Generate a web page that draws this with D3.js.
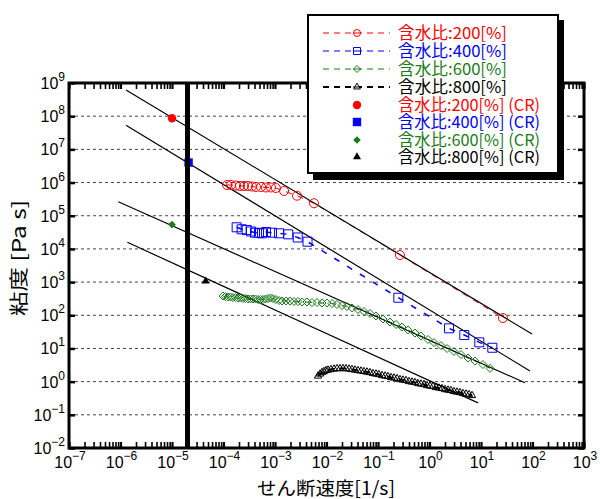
<!DOCTYPE html>
<html>
<head>
<meta charset="utf-8">
<script src="https://cdn.jsdelivr.net/npm/d3@7"></script>
<style>
  body { margin: 0; background: #fff; }
  svg { display: block; }
</style>
</head>
<body>
<svg id="chart" width="600" height="499"></svg>
<script>
// ---- data -------------------------------------------------------------
const xTickExps = [-7, -6, -5, -4, -3, -2, -1, 0, 1, 2, 3];
const yTickExps = [-2, -1, 0, 1, 2, 3, 4, 5, 6, 7, 8, 9];

// measured viscosity curves: [shear rate 1/s, viscosity Pa s]
const w200 = [
  [1.17e-4, 8.43e5], [1.40e-4, 8.43e5], [1.75e-4, 8.15e5], [2.09e-4, 7.87e5],
  [2.50e-4, 7.87e5], [2.99e-4, 7.87e5], [3.57e-4, 7.60e5], [4.28e-4, 7.34e5],
  [5.35e-4, 7.34e5], [6.68e-4, 7.10e5], [8.36e-4, 7.10e5], [1.04e-3, 6.85e5],
  [1.50e-3, 5.56e5], [2.67e-3, 4.01e5], [5.72e-3, 2.37e5], [0.267, 6.55e3],
  [26.7, 82.6]
];
const w400 = [
  [1.80e-4, 4.48e4], [2.25e-4, 3.90e4], [2.82e-4, 3.72e4], [3.42e-4, 3.35e4],
  [4.09e-4, 3.08e4], [4.89e-4, 3.01e4], [5.60e-4, 2.95e4], [6.68e-4, 3.23e4],
  [8.75e-4, 3.08e4], [1.20e-3, 2.95e4], [1.81e-3, 2.75e4], [2.76e-3, 2.21e4],
  [4.28e-3, 1.65e4], [0.248, 338], [2.39, 40.4], [4.74, 25.4], [9.27, 15.3],
  [16.6, 10.5]
];
const w600 = [
  [9.8e-5, 380], [1.09e-4, 367], [1.22e-4, 355], [1.37e-4, 355], [1.53e-4, 343],
  [1.71e-4, 343], [1.91e-4, 331], [2.14e-4, 331], [2.39e-4, 320], [2.67e-4, 320],
  [2.99e-4, 309], [3.34e-4, 309], [3.74e-4, 309], [4.18e-4, 309], [4.68e-4, 299],
  [5.23e-4, 299], [5.85e-4, 299], [6.54e-4, 309], [7.31e-4, 320], [8.18e-4, 331],
  [9.14e-4, 320], [1.04e-3, 299], [1.20e-3, 279], [1.37e-3, 269], [1.64e-3, 269],
  [1.95e-3, 269], [2.34e-3, 260], [2.80e-3, 260], [3.34e-3, 251], [4.18e-3, 251],
  [5.22e-3, 242], [6.54e-3, 242], [8.18e-3, 234], [1.02e-2, 234], [1.28e-2, 226],
  [1.60e-2, 211], [2.00e-2, 197], [2.50e-2, 184], [3.13e-2, 166], [4.09e-2, 149],
  [5.35e-2, 130], [7.00e-2, 113], [9.14e-2, 95], [0.125, 77], [0.171, 62.7],
  [0.224, 52.7], [0.292, 44.3], [0.383, 36.0], [0.523, 29.2], [0.684, 23.7],
  [0.935, 18.6], [1.22, 15.1], [1.67, 12.2], [2.19, 9.95], [2.99, 8.09],
  [4.09, 6.56], [5.60, 5.15], [7.64, 4.18], [10.9, 3.28], [15.0, 2.52]
];
const w800 = [
  [6.84e-3, 1.48], [7.48e-3, 1.70], [8.18e-3, 1.88], [8.94e-3, 2.02], [9.77e-3, 2.16],
  [1.07e-2, 2.24], [1.22e-2, 2.32], [1.40e-2, 2.40], [1.60e-2, 2.48], [1.83e-2, 2.48],
  [2.09e-2, 2.48], [2.39e-2, 2.48], [2.74e-2, 2.40], [3.13e-2, 2.32], [3.57e-2, 2.24],
  [4.09e-2, 2.16], [4.68e-2, 2.09], [5.35e-2, 2.02], [6.11e-2, 1.95], [7.00e-2, 1.88],
  [8.00e-2, 1.76], [9.14e-2, 1.70], [0.104, 1.64], [0.120, 1.53], [0.137, 1.48],
  [0.156, 1.43], [0.179, 1.33], [0.205, 1.29], [0.234, 1.24], [0.267, 1.16],
  [0.305, 1.12], [0.350, 1.08], [0.400, 1.01], [0.457, 0.975], [0.523, 0.942],
  [0.598, 0.877], [0.684, 0.848], [0.782, 0.819], [0.894, 0.764], [1.02, 0.738],
  [1.17, 0.713], [1.34, 0.665], [1.53, 0.643], [1.75, 0.621], [2.00, 0.578],
  [2.29, 0.558], [2.61, 0.540], [2.99, 0.504], [3.42, 0.486], [3.91, 0.470],
  [4.47, 0.439], [5.12, 0.424], [5.85, 0.409], [6.68, 0.382]
];

// creep (CR) results: one point each
const creepRate = [1.0e-5, 2.1e-5, 1.0e-5, 4.5e-5];
const creepVisc = [8.7e7, 4.0e6, 5.4e4, 1.07e3];

// power-law fit lines, end points [rate, viscosity]
const fitStart = [[1.28e-6, 6.15e8], [1.28e-6, 5.35e7], [9.06e-7, 2.63e5], [1.36e-6, 1.58e4]];
const fitEnd   = [[98, 27.2], [89.3, 2.09], [71.4, 0.925], [8.75, 0.229]];

// vertical reference line
const refRate = 2.0e-5;

const seriesNames = ["含水比:200[%]", "含水比:400[%]", "含水比:600[%]", "含水比:800[%]"];
const creepNames = ["含水比:200[%] (CR)", "含水比:400[%] (CR)", "含水比:600[%] (CR)", "含水比:800[%] (CR)"];
const colors = ["#ff0000", "#0000ff", "#1b7a1b", "#000000"];
const shapes = ["circle", "square", "diamond", "triangle"];
const measured = [w200, w400, w600, w800];

// ---- layout ------------------------------------------------------------
const svg = d3.select("#chart");
const L = 69, R = 584, T = 83, B = 448;
const x = d3.scaleLog().domain([1e-7, 1e3]).range([L, R]);
const y = d3.scaleLog().domain([1e-2, 1e9]).range([B, T]);
const tickFont = "'Liberation Sans', Arial, sans-serif";
const jpFont = "'Noto Sans CJK JP', sans-serif";

// horizontal dashed grid
svg.append("g").selectAll("line")
  .data(yTickExps.filter(e => e > -2 && e < 9))
  .join("line")
  .attr("x1", L).attr("x2", R)
  .attr("y1", e => y(Math.pow(10, e))).attr("y2", e => y(Math.pow(10, e)))
  .attr("stroke", "#444").attr("stroke-width", 1)
  .attr("stroke-dasharray", "3,3");

// marker path generator
function markerPath(shape, s) {
  if (shape === "circle") return d3.symbol(d3.symbolCircle, Math.PI * s * s)();
  if (shape === "square") return d3.symbol(d3.symbolSquare, (2 * s) * (2 * s))();
  if (shape === "diamond") return `M0,${-s}L${s},0L0,${s}L${-s},0Z`;
  return d3.symbol(d3.symbolTriangle, s * s * 1.6)();
}
const openSize = [4.5, 4.5, 4, 3.8];
const dashes = ["6,6", "6,9", "6,6", "6,6"];
const lineW = [1, 1.5, 1, 2];

const plot = svg.append("g");
const line = d3.line().x(d => x(d[0])).y(d => y(d[1]));

// dashed connecting lines of the measured curves
measured.forEach((data, i) => {
  plot.append("path").datum(data)
    .attr("d", line).attr("fill", "none")
    .attr("stroke", colors[i]).attr("stroke-width", lineW[i])
    .attr("stroke-dasharray", dashes[i]);
});

// fitted power-law lines
plot.selectAll("line.fit")
  .data(fitStart.map((s, i) => [s, fitEnd[i]]))
  .join("line").attr("class", "fit")
  .attr("x1", d => x(d[0][0])).attr("y1", d => y(d[0][1]))
  .attr("x2", d => x(d[1][0])).attr("y2", d => y(d[1][1]))
  .attr("stroke", "#000").attr("stroke-width", 1.2);

// open markers of the measured curves
measured.forEach((data, i) => {
  plot.append("g").selectAll("path")
    .data(data).join("path")
    .attr("d", markerPath(shapes[i], openSize[i]))
    .attr("transform", d => `translate(${x(d[0])},${y(d[1])})`)
    .attr("fill", "none").attr("stroke", colors[i]).attr("stroke-width", 1);
});

// creep points
const filledSize = [4.2, 4.2, 3.8, 4.2];
plot.append("g").selectAll("path")
  .data(creepRate.map((r, i) => [r, creepVisc[i], i]))
  .join("path")
  .attr("d", d => markerPath(shapes[d[2]], filledSize[d[2]]))
  .attr("transform", d => `translate(${x(d[0])},${y(d[1])})`)
  .attr("fill", d => colors[d[2]]);

// thick vertical reference line
svg.append("line")
  .attr("x1", x(refRate)).attr("x2", x(refRate))
  .attr("y1", T).attr("y2", B + 1)
  .attr("stroke", "#000").attr("stroke-width", 5);

// ---- axes --------------------------------------------------------------
const majorX = xTickExps.map(e => Math.pow(10, e));
const minorX = [];
xTickExps.slice(0, -1).forEach(e => {
  for (let k = 2; k <= 9; k++) minorX.push(k * Math.pow(10, e));
});
const majorY = yTickExps.map(e => Math.pow(10, e));

function styleAxis(g, w) {
  g.select(".domain").remove();
  g.selectAll("line").attr("stroke", "#000").attr("stroke-width", w);
  g.selectAll("text").remove();
}
svg.append("g").attr("transform", `translate(0,${B})`)
  .call(d3.axisBottom(x).tickValues(minorX).tickSize(-6)).call(g => styleAxis(g, 1.6));
svg.append("g").attr("transform", `translate(0,${B})`)
  .call(d3.axisBottom(x).tickValues(majorX).tickSize(-6)).call(g => styleAxis(g, 2.2));
svg.append("g").attr("transform", `translate(0,${T})`)
  .call(d3.axisTop(x).tickValues(minorX).tickSize(-6)).call(g => styleAxis(g, 1.6));
svg.append("g").attr("transform", `translate(0,${T})`)
  .call(d3.axisTop(x).tickValues(majorX).tickSize(-6)).call(g => styleAxis(g, 2.2));
svg.append("g").attr("transform", `translate(${L},0)`)
  .call(d3.axisLeft(y).tickValues(majorY).tickSize(-6)).call(g => styleAxis(g, 2.5));
svg.append("g").attr("transform", `translate(${R},0)`)
  .call(d3.axisRight(y).tickValues(majorY).tickSize(-6)).call(g => styleAxis(g, 2.5));

// frame
svg.append("rect").attr("x", L).attr("y", T).attr("width", R - L).attr("height", B - T)
  .attr("fill", "none").attr("stroke", "#000").attr("stroke-width", 3);

// tick labels: 10 with superscript exponent
function powLabel(sel, e) {
  sel.append("tspan").text("10");
  sel.append("tspan").attr("dy", -8).attr("font-size", 12)
    .text(e < 0 ? "\u2212" + Math.abs(e) : String(e));
}
svg.append("g").selectAll("text")
  .data(xTickExps).join("text")
  .attr("x", e => x(Math.pow(10, e)) + 1).attr("y", B + 20)
  .attr("text-anchor", "middle")
  .attr("font-family", tickFont).attr("font-size", 16)
  .each(function (e) { powLabel(d3.select(this), e); });
svg.append("g").selectAll("text")
  .data(yTickExps).join("text")
  .attr("x", L - 4).attr("y", e => y(Math.pow(10, e)) + 6)
  .attr("text-anchor", "end")
  .attr("font-family", tickFont).attr("font-size", 16)
  .each(function (e) { powLabel(d3.select(this), e); });

// axis titles
svg.append("text")
  .attr("x", 326).attr("y", 495).attr("text-anchor", "middle")
  .attr("font-family", jpFont).attr("font-size", 18.5)
  .attr("textLength", 138).attr("lengthAdjust", "spacingAndGlyphs")
  .text("せん断速度[1/s]");
svg.append("text")
  .attr("transform", "translate(26,258) rotate(-90)")
  .attr("text-anchor", "middle")
  .attr("font-family", jpFont).attr("font-size", 19)
  .attr("textLength", 116).attr("lengthAdjust", "spacingAndGlyphs")
  .text("粘度 [Pa s]");

// ---- legend ------------------------------------------------------------
const lg = svg.append("g");
lg.append("rect").attr("x", 313).attr("y", 20).attr("width", 251).attr("height", 160).attr("fill", "#000");
lg.append("rect").attr("x", 308).attr("y", 15).attr("width", 250).attr("height", 158)
  .attr("fill", "#fff").attr("stroke", "#000").attr("stroke-width", 2);
const rowY = [33, 51, 69, 87, 105, 122, 140, 157];
const legendFont = 16.5;
seriesNames.forEach((name, i) => {
  const yy = rowY[i];
  lg.append("line").attr("x1", 323).attr("x2", 390).attr("y1", yy).attr("y2", yy)
    .attr("stroke", colors[i]).attr("stroke-width", lineW[i] === 2 ? 2 : 1)
    .attr("stroke-dasharray", "6,5");
  lg.append("path").attr("d", markerPath(shapes[i], 3.5))
    .attr("transform", `translate(357,${yy})`)
    .attr("fill", "#fff").attr("stroke", colors[i]).attr("stroke-width", 1);
  lg.append("line").attr("x1", 353).attr("x2", 361).attr("y1", yy).attr("y2", yy)
    .attr("stroke", colors[i]).attr("stroke-width", 1);
  lg.append("text").attr("x", 398).attr("y", yy + 6)
    .attr("font-family", jpFont).attr("font-size", legendFont).attr("fill", colors[i])
    .attr("textLength", 109).attr("lengthAdjust", "spacingAndGlyphs")
    .text(name);
});
creepNames.forEach((name, i) => {
  const yy = rowY[i + 4];
  lg.append("path").attr("d", markerPath(shapes[i], filledSize[i]))
    .attr("transform", `translate(357,${yy})`)
    .attr("fill", colors[i]);
  lg.append("text").attr("x", 398).attr("y", yy + 6)
    .attr("font-family", jpFont).attr("font-size", legendFont).attr("fill", colors[i])
    .attr("textLength", 142).attr("lengthAdjust", "spacingAndGlyphs")
    .text(name);
});
</script>
</body>
</html>
